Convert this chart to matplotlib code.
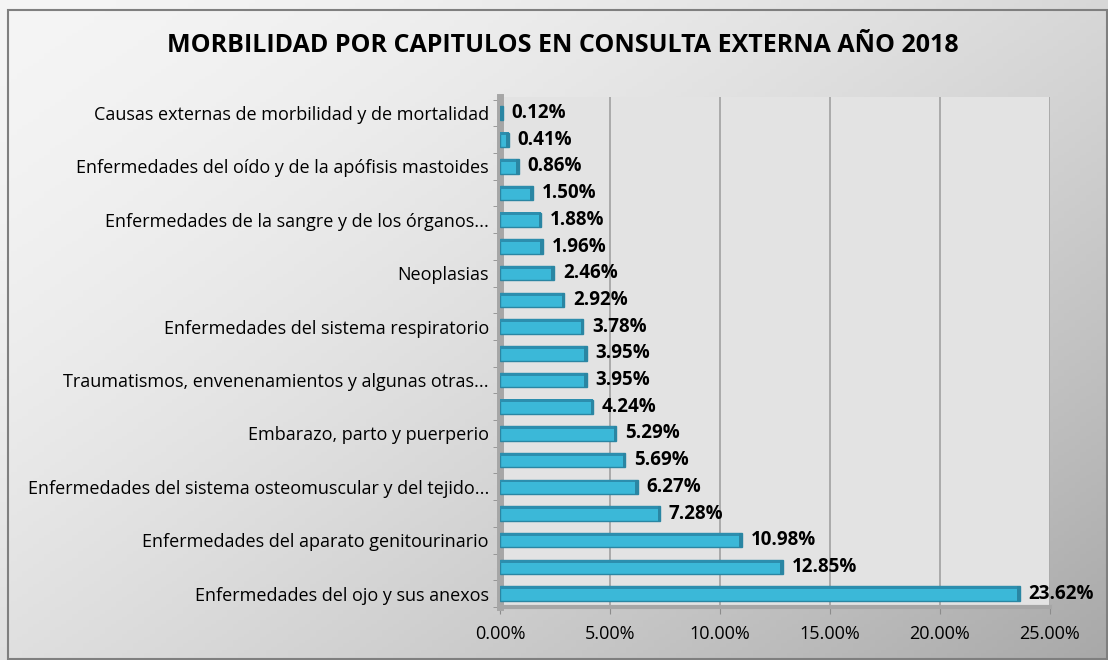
import numpy as np
import matplotlib
matplotlib.use("Agg")
import matplotlib.pyplot as plt
from matplotlib.patches import Rectangle

plt.rcParams['font.family'] = ['Open Sans', 'DejaVu Sans']

# Data, bottom to top
tick_labels = [
    "Enfermedades del ojo y sus anexos", "",
    "Enfermedades del aparato genitourinario", "",
    "Enfermedades del sistema osteomuscular y del tejido...", "",
    "Embarazo, parto y puerperio", "",
    "Traumatismos, envenenamientos y algunas otras...", "",
    "Enfermedades del sistema respiratorio", "",
    "Neoplasias", "",
    "Enfermedades de la sangre y de los órganos...", "",
    "Enfermedades del oído y de la apófisis mastoides", "",
    "Causas externas de morbilidad y de mortalidad",
]
values = [23.62, 12.85, 10.98, 7.28, 6.27, 5.69, 5.29, 4.24, 3.95, 3.95,
          3.78, 2.92, 2.46, 1.96, 1.88, 1.50, 0.86, 0.41, 0.12]
x_ticks = [0, 5, 10, 15, 20, 25]
title = "MORBILIDAD POR CAPITULOS EN CONSULTA EXTERNA AÑO 2018"

W, H = 1108, 660
fig = plt.figure(figsize=(W / 100, H / 100), dpi=100)

# gradient background
bg = fig.add_axes([0, 0, 1, 1], zorder=-10)
xx, yy = np.meshgrid(np.linspace(0, 1, 200), np.linspace(0, 1, 200))
g = 0.96 - 0.30 * (0.55 * xx + 0.45 * yy) ** 1.6
bg.imshow(np.dstack([g, g, g]), extent=[0, 1, 0, 1], aspect='auto', origin='upper')
bg.set_xlim(0, 1); bg.set_ylim(0, 1); bg.axis('off')
bg.add_patch(Rectangle((8 / W, 1 / H), (W - 9) / W, (H - 11) / H, fill=False,
                       edgecolor='#7F7F7F', linewidth=1.5))

fig.text(563 / W, 1 - 46 / H, title, ha='center', va='center',
         fontsize=18, fontweight='bold', color='black')

ax = fig.add_axes([500 / W, 1 - 607 / H, 550 / W, 510 / H])
ax.set_facecolor('#E3E3E3')
y = np.arange(len(values))
ax.set_xlim(0, 25)
ax.set_ylim(-0.5, 18.6)

ax.barh(y, values, height=0.54, color='#3BB8D8', edgecolor='#2A86A3',
        linewidth=1.0, zorder=3)
# 3D top face
ax.barh(y + 0.22, values, height=0.11, color='#2C8EAE', linewidth=0, zorder=4)
# 3D end cap
ax.barh(y, [0.12] * len(values), left=np.array(values) - 0.12, height=0.54,
        color='#2A86A3', linewidth=0, zorder=4)
for yi, v in zip(y, values):
    ax.text(v + 0.4, yi, f"{v:.2f}%", va='center', ha='left',
            fontsize=13.5, fontweight='bold', color='black', zorder=5)

ax.set_xticks(x_ticks)
ax.set_xticklabels([f"{t:.2f}%" for t in x_ticks], fontsize=13)
ax.set_yticks(y)
ax.set_yticklabels(tick_labels, fontsize=13)
ax.set_yticks(np.arange(-0.5, 18.6, 1.0), minor=True)
ax.tick_params(axis='y', which='major', length=0, pad=8)
ax.tick_params(axis='y', which='minor', length=5, color='#8C8C8C')
ax.tick_params(axis='x', length=5, color='#8C8C8C', pad=8)
ax.xaxis.grid(True, color='#A6A6A6', linewidth=1.3, zorder=0)
ax.set_axisbelow(True)
for s in ['top', 'right']:
    ax.spines[s].set_visible(False)
ax.spines['left'].set_color('#A6A6A6')
ax.spines['left'].set_linewidth(5)
ax.spines['bottom'].set_color('#A6A6A6')
ax.spines['bottom'].set_linewidth(3)

fig.savefig("out.png", dpi=100)
